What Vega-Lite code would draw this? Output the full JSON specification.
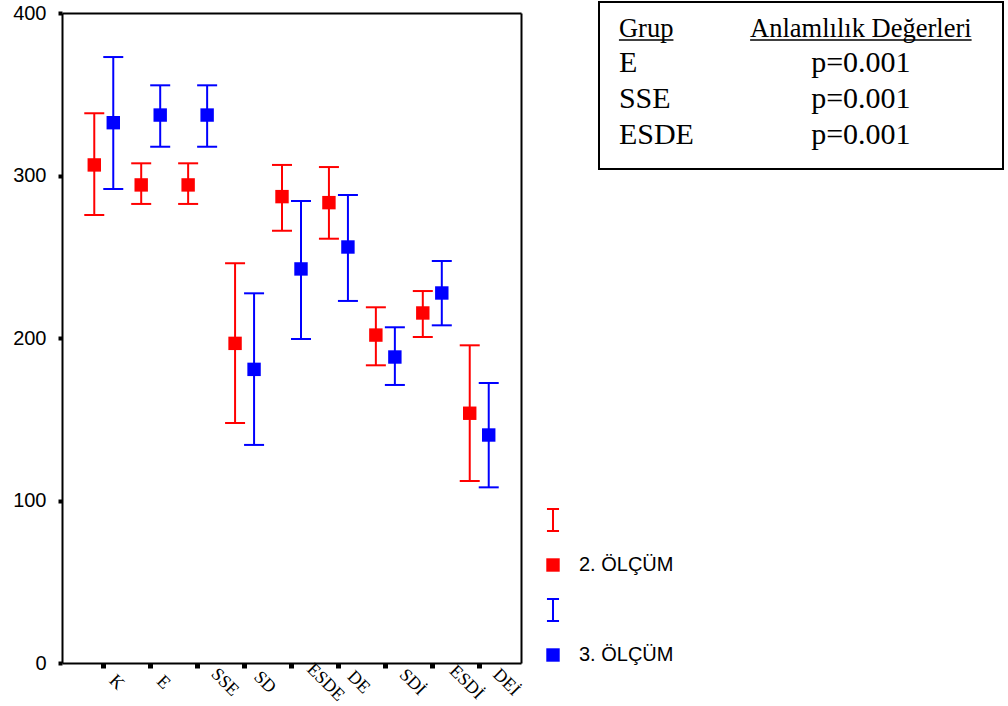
{
  "$schema": "https://vega.github.io/schema/vega-lite/v6.json",
  "padding": {"left": 12, "top": 1, "right": 0, "bottom": 0},
  "background": "white",
  "config": {
    "font": "Liberation Sans",
    "view": {"stroke": "#000000", "strokeWidth": 2}
  },
  "datasets": {
    "olcum": [
      {"grup": "K", "seri": "2. ÖLÇÜM", "ort": 306.5, "alt": 275.7, "ust": 338.3},
      {"grup": "E", "seri": "2. ÖLÇÜM", "ort": 294.2, "alt": 282.5, "ust": 307.5},
      {"grup": "SSE", "seri": "2. ÖLÇÜM", "ort": 294.2, "alt": 282.5, "ust": 307.5},
      {"grup": "SD", "seri": "2. ÖLÇÜM", "ort": 196.7, "alt": 147.7, "ust": 246.0},
      {"grup": "ESDE", "seri": "2. ÖLÇÜM", "ort": 287.0, "alt": 266.0, "ust": 306.5},
      {"grup": "DE", "seri": "2. ÖLÇÜM", "ort": 283.3, "alt": 261.1, "ust": 305.2},
      {"grup": "SDİ", "seri": "2. ÖLÇÜM", "ort": 201.8, "alt": 183.2, "ust": 218.9},
      {"grup": "ESDİ", "seri": "2. ÖLÇÜM", "ort": 215.4, "alt": 200.6, "ust": 228.9},
      {"grup": "DEİ", "seri": "2. ÖLÇÜM", "ort": 153.7, "alt": 112.0, "ust": 195.5},
      {"grup": "K", "seri": "3. ÖLÇÜM", "ort": 332.5, "alt": 291.7, "ust": 372.9},
      {"grup": "E", "seri": "3. ÖLÇÜM", "ort": 337.2, "alt": 317.7, "ust": 355.5},
      {"grup": "SSE", "seri": "3. ÖLÇÜM", "ort": 337.2, "alt": 317.7, "ust": 355.5},
      {"grup": "SD", "seri": "3. ÖLÇÜM", "ort": 180.7, "alt": 134.2, "ust": 227.5},
      {"grup": "ESDE", "seri": "3. ÖLÇÜM", "ort": 242.5, "alt": 199.4, "ust": 284.3},
      {"grup": "DE", "seri": "3. ÖLÇÜM", "ort": 256.0, "alt": 222.8, "ust": 288.0},
      {"grup": "SDİ", "seri": "3. ÖLÇÜM", "ort": 188.3, "alt": 171.1, "ust": 206.6},
      {"grup": "ESDİ", "seri": "3. ÖLÇÜM", "ort": 227.7, "alt": 207.8, "ust": 247.4},
      {"grup": "DEİ", "seri": "3. ÖLÇÜM", "ort": 140.3, "alt": 108.1, "ust": 172.3}
    ],
    "tablo": [
      {"Grup": "Grup", "p": "Anlamlılık Değerleri"},
      {"Grup": "E", "p": "p=0.001"},
      {"Grup": "SSE", "p": "p=0.001"},
      {"Grup": "ESDE", "p": "p=0.001"}
    ]
  },
  "spacing": 75,
  "hconcat": [
    {
      "width": 459,
      "height": 661,
      "view": {"stroke": null},
      "data": {"name": "olcum"},
      "resolve": {"axis": {"x": "independent", "y": "independent"}},
      "encoding": {
        "x": {
          "field": "grup",
          "type": "nominal",
          "scale": {
            "domain": ["K", "E", "SSE", "SD", "ESDE", "DE", "SDİ", "ESDİ", "DEİ"],
            "paddingInner": 0,
            "paddingOuter": 0.39
          },
          "axis": null
        },
        "xOffset": {
          "field": "seri",
          "type": "nominal",
          "scale": {"domain": ["2. ÖLÇÜM", "3. ÖLÇÜM"], "paddingOuter": 0.235}
        }
      },
      "layer": [
        {
          "mark": {"type": "rule", "strokeWidth": 2},
          "encoding": {
            "x": {
              "field": "grup",
              "type": "nominal",
              "scale": {
                "domain": ["K", "E", "SSE", "SD", "ESDE", "DE", "SDİ", "ESDİ", "DEİ"],
                "paddingInner": 0,
                "paddingOuter": 0.39
              },
              "axis": {
                "orient": "bottom",
                "title": null,
                "grid": false,
                "labelAngle": 45,
                "labelAlign": "center",
                "labelBaseline": "middle",
                "labelFont": "Liberation Serif",
                "labelFontSize": 18,
                "labelColor": "#000000",
                "labelOffset": {
                  "condition": [
                    {"test": "length(datum.value) === 1", "value": 12.5},
                    {"test": "length(datum.value) === 2", "value": 20},
                    {"test": "length(datum.value) === 3", "value": 27}
                  ],
                  "value": 34
                },
                "labelPadding": 14,
                "tickSize": 5,
                "tickWidth": 5,
                "tickColor": "#000000",
                "domainColor": "#000000",
                "domainWidth": 2
              }
            },
            "y": {
              "field": "alt",
              "type": "quantitative",
              "scale": {"domain": [0, 400], "nice": false, "zero": true, "range": [661, 11]},
              "axis": {
                "orient": "left",
                "title": null,
                "grid": false,
                "values": [0, 100, 200, 300, 400],
                "labelFont": "Liberation Sans",
                "labelFontSize": 20,
                "labelColor": "#000000",
                "labelPadding": 12,
                "tickSize": 4,
                "tickWidth": 4,
                "tickColor": "#000000",
                "domainColor": "#000000",
                "domainWidth": 2
              }
            },
            "y2": {"field": "ust"},
            "color": {
              "condition": {"test": "datum.seri === '2. ÖLÇÜM'", "value": "#FF0000"},
              "value": "#0000FF"
            }
          }
        },
        {
          "mark": {"type": "tick", "orient": "horizontal", "size": 20, "thickness": 2, "opacity": 1},
          "encoding": {
            "y": {
              "field": "ust",
              "type": "quantitative",
              "axis": {
                "orient": "right",
                "title": null,
                "grid": false,
                "labels": false,
                "ticks": false,
                "domainColor": "#000000",
                "domainWidth": 2
              }
            },
            "color": {
              "condition": {"test": "datum.seri === '2. ÖLÇÜM'", "value": "#FF0000"},
              "value": "#0000FF"
            }
          }
        },
        {
          "mark": {"type": "tick", "orient": "horizontal", "size": 20, "thickness": 2, "opacity": 1},
          "encoding": {
            "y": {"field": "alt", "type": "quantitative", "axis": null},
            "color": {
              "condition": {"test": "datum.seri === '2. ÖLÇÜM'", "value": "#FF0000"},
              "value": "#0000FF"
            }
          }
        },
        {
          "mark": {"type": "point", "filled": true, "size": 180, "opacity": 1, "strokeWidth": 0},
          "encoding": {
            "x": {
              "field": "grup",
              "type": "nominal",
              "scale": {
                "domain": ["K", "E", "SSE", "SD", "ESDE", "DE", "SDİ", "ESDİ", "DEİ"],
                "paddingInner": 0,
                "paddingOuter": 0.39
              },
              "axis": {
                "orient": "top",
                "offset": -11,
                "title": null,
                "grid": false,
                "labels": false,
                "ticks": false,
                "domainColor": "#000000",
                "domainWidth": 2
              }
            },
            "y": {"field": "ort", "type": "quantitative", "axis": null},
            "color": {
              "field": "seri",
              "type": "nominal",
              "scale": {
                "domain": ["hata2", "2. ÖLÇÜM", "hata3", "3. ÖLÇÜM"],
                "range": ["#FF0000", "#FF0000", "#0000FF", "#0000FF"]
              },
              "legend": {
                "orient": "none",
                "legendX": 481,
                "legendY": 508,
                "title": null,
                "symbolSize": 180,
                "symbolOpacity": 1,
                "labelFont": "Liberation Sans",
                "labelFontSize": 20,
                "labelColor": "#000000",
                "labelOffset": 16,
                "rowPadding": 19,
                "labelExpr": "indexof(datum.label, 'hata') === 0 ? '' : datum.label"
              }
            },
            "shape": {
              "field": "seri",
              "type": "nominal",
              "scale": {
                "domain": ["hata2", "2. ÖLÇÜM", "hata3", "3. ÖLÇÜM"],
                "range": [
                  "M-0.9,-1.8H0.9V-1.5H0.15V1.5H0.9V1.8H-0.9V1.5H-0.15V-1.5H-0.9Z",
                  "square",
                  "M-0.9,-1.8H0.9V-1.5H0.15V1.5H0.9V1.8H-0.9V1.5H-0.15V-1.5H-0.9Z",
                  "square"
                ]
              }
            }
          }
        }
      ]
    },
    {
      "width": 404,
      "height": 167,
      "data": {"name": "tablo"},
      "transform": [{"fold": ["Grup", "p"], "as": ["sutun", "metin"]}],
      "encoding": {
        "x": {
          "field": "sutun",
          "type": "nominal",
          "scale": {"type": "point", "domain": ["Grup", "p"], "padding": 0.335, "align": 0.123},
          "axis": null
        },
        "y": {
          "field": "Grup",
          "type": "ordinal",
          "sort": null,
          "scale": {"type": "point", "padding": 0.83, "align": 0.58},
          "axis": null
        }
      },
      "layer": [
        {
          "mark": {
            "type": "text",
            "font": "Liberation Serif",
            "color": "#000000",
            "baseline": "alphabetic",
            "align": {"expr": "datum.sutun === 'Grup' ? 'left' : 'center'"},
            "fontSize": {"expr": "datum.Grup === 'Grup' ? 26.5 : 30"}
          },
          "encoding": {"text": {"field": "metin"}}
        },
        {
          "transform": [{"filter": "datum.Grup === 'Grup'"}],
          "mark": {
            "type": "tick",
            "orient": "horizontal",
            "color": "#000000",
            "opacity": 1,
            "thickness": 1.5,
            "yOffset": 3.5,
            "size": {"expr": "datum.sutun === 'Grup' ? 54.5 : 221.5"},
            "xOffset": {"expr": "datum.sutun === 'Grup' ? 27.25 : 0"}
          },
          "encoding": {}
        }
      ]
    }
  ]
}
